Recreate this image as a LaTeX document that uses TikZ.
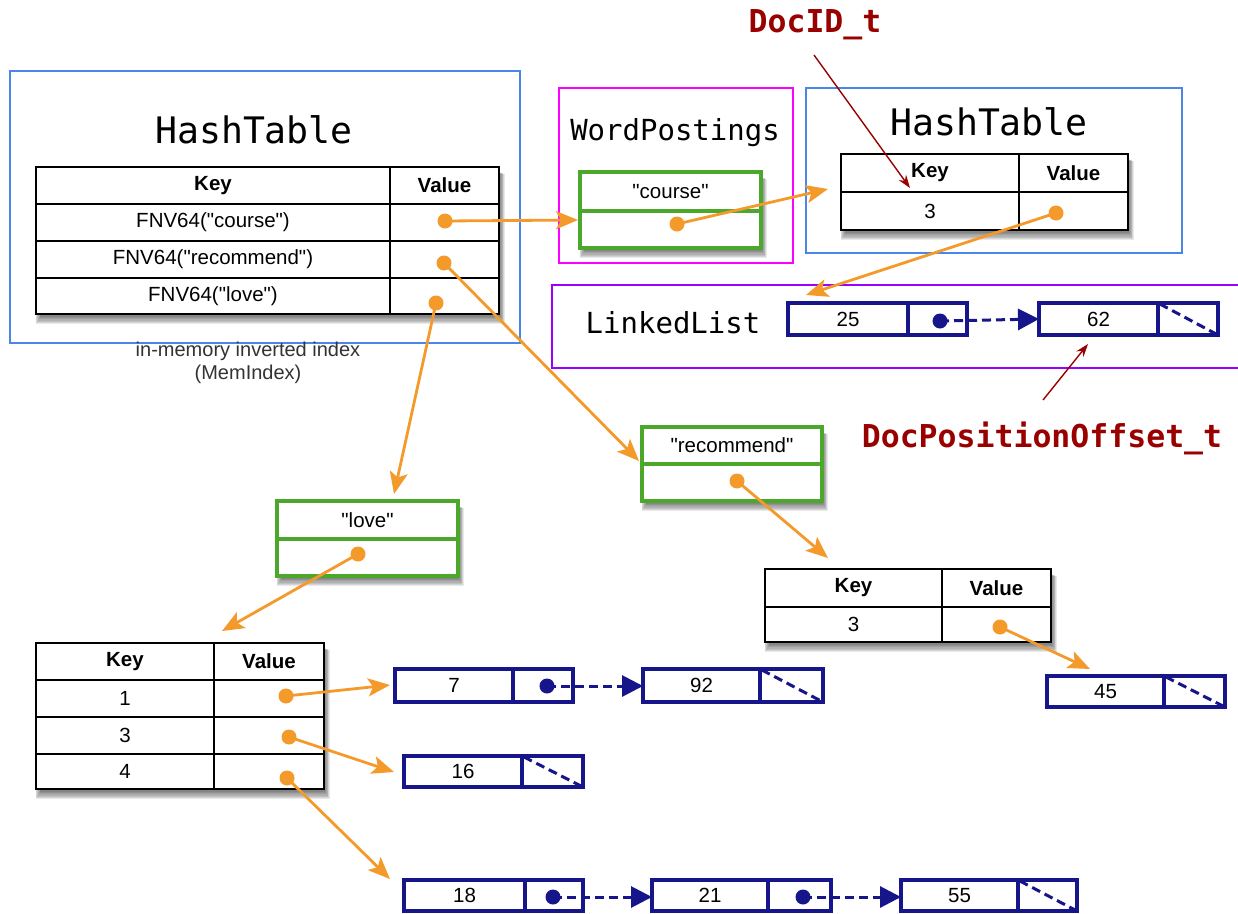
\documentclass[tikz,border=0pt]{standalone}
\usepackage{fontspec}
\setmainfont{Liberation Sans}
\newfontfamily\codefont{DejaVu Sans Mono}
\usetikzlibrary{arrows.meta}
\definecolor{boxblue}{HTML}{4A86E8}
\definecolor{boxmag}{HTML}{FF00FF}
\definecolor{boxpurple}{HTML}{9900FF}
\definecolor{labelred}{HTML}{990000}
\definecolor{arrorange}{HTML}{F39A2B}
\definecolor{boxgreen}{HTML}{4CA82A}
\definecolor{llnavy}{HTML}{16168A}
\definecolor{captgray}{HTML}{333333}
\newcommand\mkshadow[4]{%
  \foreach \i in {1,...,8}
    \fill[black, opacity=0.085] (#1+6-\i*0.8,#2+4+\i*0.4) rectangle (#3+\i*0.7,#4+\i*1.3);
}
\newcommand\qq{\textquotedbl}
\tikzset{
  container/.style={line width=1.6pt, anchor=north west, inner sep=0pt, outer sep=0pt},
  titletext/.style={font=\codefont\fontsize{36.5}{40}\selectfont, inner sep=0pt},
  subtitle/.style={font=\codefont\fontsize{29}{32}\selectfont, inner sep=0pt},
  redlabel/.style={font=\codefont\bfseries\fontsize{31.5}{34}\selectfont, text=labelred, inner sep=0pt},
  tcell/.style={draw=black, fill=white, line width=1.8pt, anchor=north west, inner sep=0pt, outer sep=0pt, font=\fontsize{20.5}{23}\selectfont},
  thead/.style={tcell, font=\bfseries\fontsize{20.5}{23}\selectfont},
  gcell/.style={draw=boxgreen, fill=white, line width=4.2pt, anchor=north west, inner sep=0pt, outer sep=0pt, font=\fontsize{20.5}{23}\selectfont},
  lcell/.style={draw=llnavy, fill=white, line width=3.5pt, anchor=north west, inner sep=0pt, outer sep=0pt, font=\fontsize{20.5}{23}\selectfont},
  odot/.style={circle, fill=arrorange, inner sep=0pt, minimum size=15pt},
  ndotst/.style={circle, fill=llnavy, inner sep=0pt, minimum size=15pt},
  oarrow/.style={draw=arrorange, line width=2.8pt, -{Stealth[length=22pt,width=18pt,inset=5pt]}},
  narrow/.style={draw=llnavy, line width=3pt, dash pattern=on 9pt off 5pt, -{Triangle[length=21pt,width=21pt]}},
  nullptr/.style={draw=llnavy, line width=3pt, dash pattern=on 9pt off 5pt},
  rarrow/.style={draw=labelred, line width=1.4pt, -{Stealth[length=13pt,width=9pt]}},
}
\begin{document}
\begin{tikzpicture}[x=1pt,y=-1pt]
\useasboundingbox (0,0) rectangle (1238,913);
\fill[white] (0,0) rectangle (1238,913);

% ---------- containers ----------
\node[container, draw=boxblue, minimum width=510pt, minimum height=272pt] (mem) at (10,71) {};
\node[titletext] (ht1) at (254,130) {HashTable};
\node[container, draw=boxmag, minimum width=234pt, minimum height=175pt] (wpbox) at (559,88) {};
\node[subtitle] (wp) at (675,133) {WordPostings};
\node[container, draw=boxblue, minimum width=376pt, minimum height=165pt] (htbox2) at (806,88) {};
\node[titletext] (ht2) at (989,122) {HashTable};
\draw[boxpurple, line width=2pt] (1250,285) -- (552,285) -- (552,368) -- (1250,368);
\node[subtitle] (ll) at (673,323) {LinkedList};

\node[redlabel] (docid) at (815,25) {DocID\_t};
\node[redlabel] (docpos) at (1042,438) {DocPositionOffset\_t};

% ---------- table 1 (MemIndex) ----------
\mkshadow{36}{167}{499}{314}
\node[thead, minimum width=354pt, minimum height=37pt] (t1hk) at (36,167) {Key};
\node[thead, minimum width=109pt, minimum height=37pt] (t1hv) at (390,167) {Value};
\node[tcell, minimum width=354pt, minimum height=37pt] (t1k1) at (36,204) {FNV64(\qq course\qq)};
\node[tcell, minimum width=109pt, minimum height=37pt] (t1v1) at (390,204) {};
\node[tcell, minimum width=354pt, minimum height=37pt] (t1k2) at (36,241) {FNV64(\qq recommend\qq)};
\node[tcell, minimum width=109pt, minimum height=37pt] (t1v2) at (390,241) {};
\node[tcell, minimum width=354pt, minimum height=36pt] (t1k3) at (36,278) {FNV64(\qq love\qq)};
\node[tcell, minimum width=109pt, minimum height=36pt] (t1v3) at (390,278) {};
\node[font=\fontsize{20}{23}\selectfont, text=captgray, align=center, inner sep=0pt] (cap) at (248,363) {in-memory inverted index\\(MemIndex)};

% ---------- WordPostings "course" ----------
\mkshadow{580}{172}{761}{248}
\node[gcell, minimum width=181pt, minimum height=39pt] (cw) at (580,172) {\qq course\qq};
\node[gcell, minimum width=181pt, minimum height=37pt] (cv) at (580,211) {};

% ---------- table 2 ----------
\mkshadow{841}{154}{1128}{230}
\node[thead, minimum width=178pt, minimum height=38pt] (t2hk) at (841,154) {Key};
\node[thead, minimum width=109pt, minimum height=38pt] (t2hv) at (1019,154) {Value};
\node[tcell, minimum width=178pt, minimum height=38pt] (t2k) at (841,192) {3};
\node[tcell, minimum width=109pt, minimum height=38pt] (t2v) at (1019,192) {};

% ---------- linked list 25 -> 62 ----------
\node[lcell, minimum width=120pt, minimum height=32pt] (n25v) at (788,303) {25};
\node[lcell, minimum width=59pt, minimum height=32pt] (n25p) at (908,303) {};
\node[lcell, minimum width=119pt, minimum height=32pt] (n62v) at (1039,303) {62};
\node[lcell, minimum width=60pt, minimum height=32pt] (n62p) at (1158,303) {};

% ---------- "recommend" ----------
\mkshadow{642}{427}{822}{501}
\node[gcell, minimum width=180pt, minimum height=37pt] (rw) at (642,427) {\qq recommend\qq};
\node[gcell, minimum width=180pt, minimum height=37pt] (rv) at (642,464) {};

% ---------- table 4 ----------
\mkshadow{765}{569}{1051}{642}
\node[thead, minimum width=177pt, minimum height=38pt] (t4hk) at (765,569) {Key};
\node[thead, minimum width=109pt, minimum height=38pt] (t4hv) at (942,569) {Value};
\node[tcell, minimum width=177pt, minimum height=35pt] (t4k) at (765,607) {3};
\node[tcell, minimum width=109pt, minimum height=35pt] (t4v) at (942,607) {};

% ---------- node 45 ----------
\node[lcell, minimum width=117pt, minimum height=31pt] (n45v) at (1047,676) {45};
\node[lcell, minimum width=61pt, minimum height=31pt] (n45p) at (1164,676) {};

% ---------- "love" ----------
\mkshadow{277}{501}{458}{576}
\node[gcell, minimum width=181pt, minimum height=38pt] (lw) at (277,501) {\qq love\qq};
\node[gcell, minimum width=181pt, minimum height=37pt] (lv) at (277,539) {};

% ---------- table 3 ----------
\mkshadow{36}{643}{324}{789}
\node[thead, minimum width=178pt, minimum height=37pt] (t3hk) at (36,643) {Key};
\node[thead, minimum width=110pt, minimum height=37pt] (t3hv) at (214,643) {Value};
\node[tcell, minimum width=178pt, minimum height=37pt] (t3k1) at (36,680) {1};
\node[tcell, minimum width=110pt, minimum height=37pt] (t3v1) at (214,680) {};
\node[tcell, minimum width=178pt, minimum height=37pt] (t3k2) at (36,717) {3};
\node[tcell, minimum width=110pt, minimum height=37pt] (t3v2) at (214,717) {};
\node[tcell, minimum width=178pt, minimum height=35pt] (t3k3) at (36,754) {4};
\node[tcell, minimum width=110pt, minimum height=35pt] (t3v3) at (214,754) {};

% ---------- lists of table 3 ----------
\node[lcell, minimum width=118pt, minimum height=33pt] (n7v) at (395,669) {7};
\node[lcell, minimum width=60pt, minimum height=33pt] (n7p) at (513,669) {};
\node[lcell, minimum width=117pt, minimum height=33pt] (n92v) at (643,669) {92};
\node[lcell, minimum width=63pt, minimum height=33pt] (n92p) at (760,669) {};

\node[lcell, minimum width=118pt, minimum height=31pt] (n16v) at (404,756) {16};
\node[lcell, minimum width=61pt, minimum height=31pt] (n16p) at (522,756) {};

\node[lcell, minimum width=121pt, minimum height=31pt] (n18v) at (404,880) {18};
\node[lcell, minimum width=58pt, minimum height=31pt] (n18p) at (525,880) {};
\node[lcell, minimum width=116pt, minimum height=31pt] (n21v) at (652,880) {21};
\node[lcell, minimum width=63pt, minimum height=31pt] (n21p) at (768,880) {};
\node[lcell, minimum width=117pt, minimum height=31pt] (n55v) at (901,880) {55};
\node[lcell, minimum width=59pt, minimum height=31pt] (n55p) at (1018,880) {};

% ---------- null pointers ----------
\foreach \p in {n62p,n45p,n92p,n16p,n55p}
  \draw[nullptr, shorten <=2pt, shorten >=2pt] (\p.north west) -- (\p.south east);

% ---------- navy pointer dots and links ----------
\node[ndotst] (n25d) at (940,321) {};
\node[ndotst] (n7d) at (547,686) {};
\node[ndotst] (n18d) at (553,897) {};
\node[ndotst] (n21d) at (803,897) {};
\draw[narrow] (n25d.center) -- (n62v.west);
\draw[narrow] (n7d.center) -- (n92v.west |- n7d);
\draw[narrow] (n18d.center) -- (n21v.west |- n18d);
\draw[narrow] (n21d.center) -- (n55v.west |- n21d);

% ---------- orange value dots ----------
\node[odot] (t1d1) at (445,221) {};
\node[odot] (t1d2) at (444,263) {};
\node[odot] (t1d3) at (436,303) {};
\node[odot] (cd) at (677,224) {};
\node[odot] (t2d) at (1056,213) {};
\node[odot] (rd) at (737,481) {};
\node[odot] (t4d) at (1000,627) {};
\node[odot] (ld) at (358,554) {};
\node[odot] (t3d1) at (286,696) {};
\node[odot] (t3d2) at (289,737) {};
\node[odot] (t3d3) at (287,778) {};

% ---------- arrow tips (free ends) ----------
\coordinate (a1) at (578,220);
\coordinate (a2) at (828,189);
\coordinate (a3) at (806,295);
\coordinate (a4) at (639,461);
\coordinate (a5) at (828,558);
\coordinate (a6) at (1090,669);
\coordinate (a7) at (394,494);
\coordinate (a8) at (222,631);
\coordinate (a9) at (390,685);
\coordinate (a10) at (394,772);
\coordinate (a11) at (390,879);
\coordinate (r1s) at (814,55);
\coordinate (r1e) at (910,188);
\coordinate (r2s) at (1043,400);
\coordinate (r2e) at (1088,344);

% ---------- orange connectors ----------
\draw[oarrow] (t1d1.center) -- (a1);
\draw[oarrow] (cd.center) -- (a2);
\draw[oarrow] (t2d.center) -- (a3);
\draw[oarrow] (t1d2.center) -- (a4);
\draw[oarrow] (rd.center) -- (a5);
\draw[oarrow] (t4d.center) -- (a6);
\draw[oarrow] (t1d3.center) -- (a7);
\draw[oarrow] (ld.center) -- (a8);
\draw[oarrow] (t3d1.center) -- (a9);
\draw[oarrow] (t3d2.center) -- (a10);
\draw[oarrow] (t3d3.center) -- (a11);

% ---------- red label arrows ----------
\draw[rarrow] (r1s) -- (r1e);
\draw[rarrow] (r2s) -- (r2e);
\end{tikzpicture}
\end{document}
